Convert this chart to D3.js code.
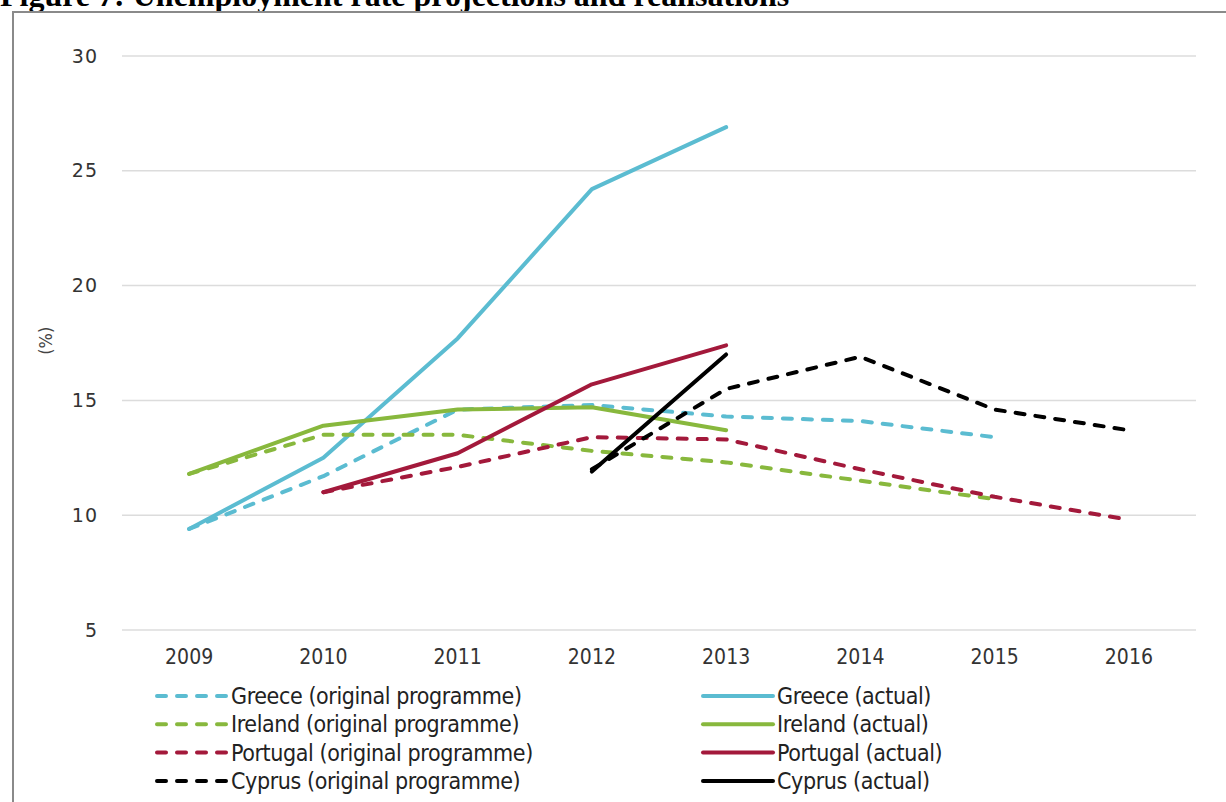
<!DOCTYPE html>
<html>
<head>
<meta charset="utf-8">
<script src="https://cdn.jsdelivr.net/npm/d3@7"></script>
<style>
  body { margin: 0; background: #fff; }
  svg { display: block; }
</style>
</head>
<body>
<div id="chart"></div>
<script>
const width = 1226;
const height = 802;

// data
const years = ["2009", "2010", "2011", "2012", "2013", "2014", "2015", "2016"];
const yTicks = [5, 10, 15, 20, 25, 30];

const greeceProg     = [9.4, 11.7, 14.6, 14.8, 14.3, 14.1, 13.4, null];
const greeceActual   = [9.4, 12.5, 17.7, 24.2, 26.9, null, null, null];
const irelandProg    = [11.8, 13.5, 13.5, 12.8, 12.3, 11.5, 10.7, null];
const irelandActual  = [11.8, 13.9, 14.6, 14.7, 13.7, null, null, null];
const portugalProg   = [null, 11.0, 12.1, 13.4, 13.3, 12.0, 10.8, 9.8];
const portugalActual = [null, 11.0, 12.7, 15.7, 17.4, null, null, null];
const cyprusProg     = [null, null, null, 12.0, 15.5, 16.9, 14.6, 13.7];
const cyprusActual   = [null, null, null, 11.9, 17.0, null, null, null];

const seriesNames = [
  "Greece (original programme)", "Greece (actual)",
  "Ireland (original programme)", "Ireland (actual)",
  "Portugal (original programme)", "Portugal (actual)",
  "Cyprus (original programme)", "Cyprus (actual)"
];

const colors = {
  Greece: "#5bbcd1",
  Ireland: "#88b83d",
  Portugal: "#a3193b",
  Cyprus: "#000000"
};

const series = [
  { name: seriesNames[0], country: "Greece", dashed: true, values: greeceProg },
  { name: seriesNames[1], country: "Greece", dashed: false, values: greeceActual },
  { name: seriesNames[2], country: "Ireland", dashed: true, values: irelandProg },
  { name: seriesNames[3], country: "Ireland", dashed: false, values: irelandActual },
  { name: seriesNames[4], country: "Portugal", dashed: true, values: portugalProg },
  { name: seriesNames[5], country: "Portugal", dashed: false, values: portugalActual },
  { name: seriesNames[6], country: "Cyprus", dashed: true, values: cyprusProg },
  { name: seriesNames[7], country: "Cyprus", dashed: false, values: cyprusActual }
];

const condensed = "'DejaVu Sans Condensed', 'Liberation Sans Narrow', 'DejaVu Sans', sans-serif";

const svg = d3.select("#chart")
  .append("svg")
  .attr("width", width)
  .attr("height", height);

// title, cut at the top of the page like the original
svg.append("text")
  .attr("x", 0)
  .attr("y", 6)
  .attr("font-family", "'Liberation Serif', 'Times New Roman', serif")
  .attr("font-weight", "bold")
  .attr("font-size", "32px")
  .attr("fill", "#000")
  .text("Figure 7: Unemployment rate projections and realisations");

// frame
svg.append("rect")
  .attr("x", 13)
  .attr("y", 12)
  .attr("width", 1240)
  .attr("height", 820)
  .attr("fill", "none")
  .attr("stroke", "#8a8a8a")
  .attr("stroke-width", 2);

// scales
const xBand = d3.scaleBand()
  .domain(years)
  .range([122, 1196])
  .padding(0);

const x = d => xBand(d) + xBand.bandwidth() / 2;

const y = d3.scaleLinear()
  .domain([5, 30])
  .range([630, 56]);

// gridlines
svg.append("g")
  .selectAll("line")
  .data(yTicks)
  .join("line")
  .attr("x1", xBand.range()[0])
  .attr("x2", xBand.range()[1])
  .attr("y1", d => y(d))
  .attr("y2", d => y(d))
  .attr("stroke", "#dcdcdc")
  .attr("stroke-width", 1.5);

// y axis labels
const yAxis = svg.append("g")
  .attr("transform", "translate(98,0)")
  .call(d3.axisLeft(y).tickValues(yTicks).tickSize(0).tickPadding(0));
yAxis.select(".domain").remove();
yAxis.selectAll("text")
  .attr("font-family", "'DejaVu Sans', sans-serif")
  .attr("font-size", "19px")
  .attr("letter-spacing", "1px")
  .attr("fill", "#333");

svg.append("text")
  .attr("transform", `translate(52, ${y(17.6)}) rotate(-90)`)
  .attr("text-anchor", "middle")
  .attr("font-family", condensed)
  .attr("font-size", "18px")
  .attr("fill", "#444")
  .text("(%)");

// x axis labels
const xAxis = svg.append("g")
  .attr("transform", "translate(0,649)")
  .call(d3.axisBottom(xBand).tickSize(0).tickPadding(0));
xAxis.select(".domain").remove();
xAxis.selectAll("text")
  .attr("dy", "0.71em")
  .attr("font-family", condensed)
  .attr("font-size", "21px")
  .attr("fill", "#333");

// lines
const line = d3.line()
  .defined(d => d.v !== null)
  .x(d => x(d.year))
  .y(d => y(d.v));

svg.append("g")
  .selectAll("path")
  .data(series)
  .join("path")
  .attr("d", s => line(s.values.map((v, i) => ({ year: years[i], v }))))
  .attr("fill", "none")
  .attr("stroke", s => colors[s.country])
  .attr("stroke-width", 4)
  .attr("stroke-linejoin", "round")
  .attr("stroke-linecap", "round")
  .attr("stroke-dasharray", s => s.dashed ? "9,11" : null);

// legend
const legend = svg.append("g");
const legendItems = legend.selectAll("g")
  .data(series)
  .join("g")
  .attr("transform", (d, i) => {
    const col = i % 2;
    const row = Math.floor(i / 2);
    return `translate(${col === 0 ? 157 : 703}, ${696 + row * 28.3})`;
  });

legendItems.append("line")
  .attr("x1", 0)
  .attr("x2", 70)
  .attr("stroke", d => colors[d.country])
  .attr("stroke-width", 4)
  .attr("stroke-linecap", "round")
  .attr("stroke-dasharray", d => d.dashed ? "9,11" : null);

legendItems.append("text")
  .attr("x", 74)
  .attr("dy", "0.35em")
  .attr("font-family", condensed)
  .attr("font-size", "23px")
  .attr("letter-spacing", "-0.4px")
  .attr("fill", "#222")
  .text(d => d.name);
</script>
</body>
</html>
